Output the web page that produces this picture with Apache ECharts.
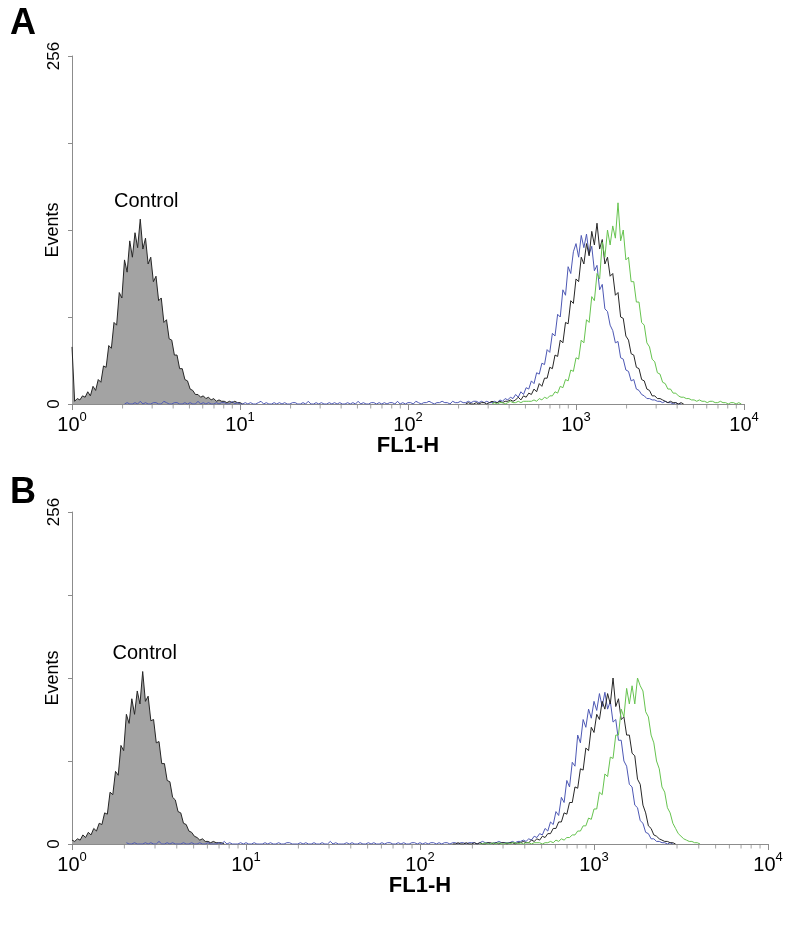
<!DOCTYPE html>
<html>
<head>
<meta charset="utf-8">
<style>
html,body{margin:0;padding:0;background:#fff;}
#chart{width:793px;height:926px;}
</style>
<script src="https://cdn.jsdelivr.net/npm/echarts@6/dist/echarts.min.js"></script>
</head>
<body>
<div id="chart"></div>
<script>
// Flow cytometry histograms: counts per channel, 64 channels per decade (x = 10^(ch/64))
const CH_PER_DECADE = 64;
const minorTicks = [2,3,4,5,6,7,8,9,20,30,40,50,60,70,80,90,200,300,400,500,600,700,800,900,2000,3000,4000,5000,6000,7000,8000,9000];
const yLabelValues = [0, 256];

// ---------- Panel A ----------
const ctrlA_start = 0;
const ctrlA = [42,2,4,3,6,5,9,6,13,10,18,16,28,27,43,41,60,58,82,78,106,97,120,108,126,115,136,114,122,103,108,90,94,76,78,60,62,48,47,36,36,26,26,18,17,11,10,7,7,5,6,4,5,3,4,2,3,2,2,1,2,1,2,1,1,0];

const blueA_start = 20;
const blueA = [
0,1,0,0,1,0,2,0,1,0,0,1,1,0,0,2,1,0,0,1,
1,0,0,1,0,1,0,0,2,0,1,0,1,0,0,1,0,1,1,0,
0,2,0,1,0,0,1,0,1,0,0,1,2,0,1,0,0,1,0,1,
0,1,0,0,1,1,0,0,1,0,2,0,0,1,0,1,0,0,1,0,
1,0,1,0,0,1,0,1,0,2,0,1,0,0,1,1,0,1,0,1,
0,1,1,0,2,0,1,0,1,1,0,2,1,0,1,1,2,1,0,1,
1,2,1,1,0,2,1,1,2,1,1,2,1,2,2,1,2,1,2,1,
1,2,1,3,2,4,3,5,4,7,5,9,7,12,11,17,15,23,22,30,29,40,38,52,50,66,64,84,80,101,96,112,118,108,124,115,125,110,116,98,102,84,88,70,68,58,54,45,46,34,33,25,24,17,18,11,10,7,6,4,4,3,3,2,2,1,2,1,1,0,1,0,0];

const blackA_start = 150;
const blackA = [0,1,0,0,1,0,1,1,0,1,2,1,1,2,1,2,2,3,2,
3,5,3,6,5,8,7,11,9,15,13,19,19,27,26,36,35,47,45,60,59,76,74,92,90,108,103,118,109,127,117,133,114,121,103,108,94,96,80,82,64,63,50,47,37,36,27,26,18,17,11,10,6,6,4,4,3,2,1,2,1,1,0,1,0];

const greenA_start = 160;
const greenA = [0,1,0,1,1,0,1,2,1,1,2,1,2,2,2,
2,3,2,4,3,5,4,6,6,9,8,13,12,18,17,25,24,34,33,47,45,62,60,79,76,96,92,119,108,128,117,131,122,148,120,128,106,108,90,90,75,75,60,58,45,42,33,31,23,22,16,15,11,11,8,8,6,5,5,4,4,3,3,2,3,2,2,1,2,2,1,1,2,1,1,0,1,1,0,1,0];

// ---------- Panel B ----------
const ctrlB_start = 0;
const ctrlB = [3,2,4,3,7,5,9,7,12,10,16,15,24,23,40,38,56,53,76,72,100,93,112,100,118,108,133,110,114,95,96,78,79,62,62,49,48,36,34,25,24,16,15,10,9,6,5,3,4,2,2,1,2,1,1,1,0];

const blueB_start = 20;
const blueB = [
1,0,0,1,0,0,0,1,0,1,0,0,2,0,0,1,0,1,0,0,
0,1,0,0,1,0,0,1,0,0,1,0,0,0,1,0,2,0,1,0,
0,0,1,0,1,0,0,1,0,0,0,1,0,1,0,0,1,0,0,1,
1,0,0,0,1,0,1,0,0,1,0,0,1,0,0,2,0,1,0,0,
0,1,0,1,0,0,1,0,0,1,0,1,0,0,1,0,1,1,0,0,
1,0,1,0,0,1,1,0,1,0,1,0,1,1,0,1,0,1,1,0,
1,1,0,1,1,0,1,1,1,0,1,2,1,1,0,1,1,2,1,1,
1,1,2,1,2,2,3,2,4,3,6,5,8,7,12,10,17,15,25,22,36,32,49,44,63,60,84,78,96,90,104,97,110,103,116,106,117,104,110,94,96,80,80,64,60,46,44,30,28,18,16,9,8,4,4,2,2,1,1,0,1,0];

const blackB_start = 140;
const blackB = [0,0,1,0,0,1,0,0,1,0,1,0,0,1,1,0,1,0,1,1,0,1,1,0,1,1,2,1,
1,3,2,4,3,6,5,8,8,12,12,17,17,24,23,32,32,44,43,58,57,74,72,90,86,100,96,110,104,116,108,128,106,112,96,98,84,84,70,68,50,46,30,24,14,12,7,6,4,3,2,2,1,1,0];

const greenB_start = 150;
const greenB = [0,0,1,0,0,1,0,1,0,0,1,0,1,1,0,1,0,1,1,0,1,1,1,0,1,
1,2,1,3,2,4,3,5,5,7,7,10,10,14,14,20,19,27,27,40,38,54,52,67,66,84,84,104,98,120,108,122,108,128,122,118,102,98,84,78,64,58,44,40,28,24,16,12,8,6,4,3,2,2,1,1,0];

// ---------- styling ----------
const FONT = 'Liberation Sans, Arial, Helvetica, sans-serif';
const AXIS_GRAY = '#8c8c8c';
const C_BLUE = '#4d58b4';
const C_GREEN = '#66c34f';
const C_BLACK = '#262626';
const C_FILL = '#a3a3a3';

function toData(start, counts) {
  return counts.map((c, i) => [Math.pow(10, (start + i) / CH_PER_DECADE), c]);
}

function xAxisFor(idx) {
  return {
    type: 'log', logBase: 10, min: 1, max: 10000, gridIndex: idx, splitNumber: 4,
    axisLine: { show: true, lineStyle: { color: AXIS_GRAY, width: 1 } },
    axisTick: { show: true, length: 6, lineStyle: { color: AXIS_GRAY, width: 1 } },
    splitLine: { show: false },
    axisLabel: {
      margin: 7,
      color: '#000',
      formatter: function (v) {
        const e = Math.round(Math.log10(v));
        return '{b|10}{s|' + e + '}';
      },
      rich: {
        b: { fontSize: 20, lineHeight: 24, verticalAlign: 'bottom', fontFamily: FONT, color: '#000' },
        s: { fontSize: 13, lineHeight: 13, verticalAlign: 'top', fontFamily: FONT, color: '#000' }
      }
    },
    name: 'FL1-H', nameLocation: 'middle', nameGap: 31, nameMoveOverlap: false,
    nameTextStyle: { fontSize: 22, fontWeight: 'bold', color: '#000', fontFamily: FONT }
  };
}

function yAxisFor(idx) {
  return {
    type: 'value', min: 0, max: 256, interval: 64, gridIndex: idx,
    axisLine: { show: true, lineStyle: { color: AXIS_GRAY, width: 1 } },
    axisTick: { show: true, length: 4, lineStyle: { color: AXIS_GRAY, width: 1 } },
    splitLine: { show: false },
    axisLabel: {
      rotate: 90, margin: 9, fontSize: 17, color: '#000', fontFamily: FONT,
      formatter: function (v) { return yLabelValues.indexOf(v) >= 0 ? String(v) : ''; }
    },
    name: 'Events', nameLocation: 'middle', nameGap: 10, nameMoveOverlap: false,
    nameTextStyle: { fontSize: 18, color: '#000', fontFamily: FONT }
  };
}

function lineSeries(idx, data, color, z) {
  return {
    type: 'line', xAxisIndex: idx, yAxisIndex: idx, data: data,
    showSymbol: false, symbol: 'none', silent: true, z: z,
    lineStyle: { width: 1, color: color }, sampling: null
  };
}

function controlSeries(idx, data, offsetX) {
  return {
    type: 'line', xAxisIndex: idx, yAxisIndex: idx, data: data,
    showSymbol: false, symbol: 'none', silent: true, z: 2,
    lineStyle: { width: 1, color: C_BLACK },
    areaStyle: { color: C_FILL, opacity: 1 },
    markPoint: {
      symbol: 'circle', symbolSize: 0, silent: true,
      label: { show: true, formatter: 'Control', position: 'top', distance: 8, offset: [offsetX, 0],
               fontSize: 20, color: '#000', fontFamily: FONT },
      data: [{ type: 'max' }]
    }
  };
}

function minorTickSeries(idx) {
  return {
    type: 'scatter', xAxisIndex: idx, yAxisIndex: idx, clip: false, silent: true, z: 1,
    data: minorTicks.map(v => [v, 0]),
    symbol: 'rect', symbolSize: [1, 4], symbolOffset: [0, 2.5],
    itemStyle: { color: AXIS_GRAY }
  };
}

const option = {
  animation: false,
  backgroundColor: '#ffffff',
  textStyle: { fontFamily: FONT },
  grid: [
    { left: 72, top: 56, width: 672, height: 348 },
    { left: 72, top: 512, width: 696, height: 332 }
  ],
  xAxis: [xAxisFor(0), xAxisFor(1)],
  yAxis: [yAxisFor(0), yAxisFor(1)],
  series: [
    controlSeries(0, toData(ctrlA_start, ctrlA), 6),
    lineSeries(0, toData(blueA_start, blueA), C_BLUE, 3),
    lineSeries(0, toData(blackA_start, blackA), C_BLACK, 4),
    lineSeries(0, toData(greenA_start, greenA), C_GREEN, 5),
    minorTickSeries(0),
    controlSeries(1, toData(ctrlB_start, ctrlB), 2),
    lineSeries(1, toData(blueB_start, blueB), C_BLUE, 3),
    lineSeries(1, toData(blackB_start, blackB), C_BLACK, 4),
    lineSeries(1, toData(greenB_start, greenB), C_GREEN, 5),
    minorTickSeries(1)
  ],
  graphic: [
    { type: 'text', x: 10, y: 24, style: { text: 'A', fontSize: 36, fontWeight: 'bold', fontFamily: FONT, fill: '#000', verticalAlign: 'middle', textVerticalAlign: 'middle' } },
    { type: 'text', x: 10, y: 493, style: { text: 'B', fontSize: 36, fontWeight: 'bold', fontFamily: FONT, fill: '#000', verticalAlign: 'middle', textVerticalAlign: 'middle' } }
  ]
};

const chart = echarts.init(document.getElementById('chart'), null, { renderer: 'canvas' });
chart.setOption(option);
</script>
</body>
</html>
